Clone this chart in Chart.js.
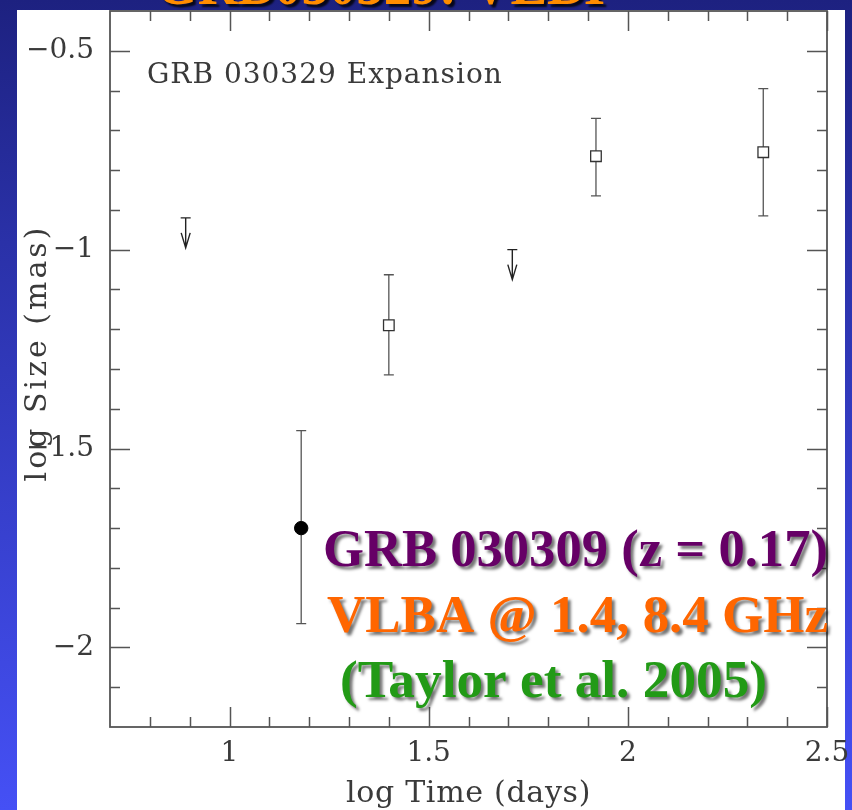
<!DOCTYPE html>
<html><head><meta charset="utf-8">
<script src="https://cdn.jsdelivr.net/npm/chart.js@4.4.0/dist/chart.umd.min.js"></script>
<style>html,body{margin:0;padding:0;background:#2a33b5;overflow:hidden}canvas{display:block}</style>
</head><body>
<canvas id="c" width="852" height="810"></canvas>
<script>
// ---- data ----
const limitX = [0.89, 1.71];
const limitY = [-0.92, -1.0];
const filledX = [1.18];
const filledY = [-1.70];
const filledLow = [-1.94];
const filledHigh = [-1.455];
const openX = [1.40, 1.92, 2.34];
const openY = [-1.19, -0.765, -0.755];
const openLow = [-1.315, -0.865, -0.915];
const openHigh = [-1.063, -0.67, -0.595];
const xRange = [0.7, 2.5];
const yRange = [-2.2, -0.4];
const xTickValues = [1, 1.5, 2, 2.5];
const xTickLabels = ['1', '1.5', '2', '2.5'];
const yTickValues = [-2, -1.5, -1, -0.5];
const yTickLabels = ['\u22122', '\u22121.5', '\u22121', '\u22120.5'];
const xMinorTicks = [0.8, 0.9, 1.1, 1.2, 1.3, 1.4, 1.6, 1.7, 1.8, 1.9, 2.1, 2.2, 2.3, 2.4];
const yMinorTicks = [-2.1, -1.9, -1.8, -1.7, -1.6, -1.4, -1.3, -1.2, -1.1, -0.9, -0.8, -0.7, -0.6];
const plotLabel = 'GRB 030329 Expansion';
const xTitle = 'log Time (days)';
const yTitle = 'log Size (mas)';
const noteLines = ['GRB 030309 (z = 0.17)', 'VLBA @ 1.4, 8.4 GHz', '(Taylor et al. 2005)'];
const slideTitle = 'GRB030329: VLBI';

// ---- styles ----
const AXIS = '#555';
const TEXT = '#3a3a3a';
const SERIF = '"DejaVu Serif", serif';
const BOLD = '"Liberation Serif", "Times New Roman", serif';

const decor = {
  id: 'decor',
  beforeDraw(chart) {
    const ctx = chart.ctx, W = chart.width, H = chart.height;
    ctx.save();
    const g = ctx.createLinearGradient(0, 0, 0, H);
    g.addColorStop(0, '#1d2180');
    g.addColorStop(0.3, '#2a31a8');
    g.addColorStop(1, '#4550f5');
    ctx.fillStyle = g;
    ctx.fillRect(0, 0, W, H);
    // slide title (cut off by top edge)
    ctx.font = 'bold 64px ' + BOLD;
    ctx.textBaseline = 'alphabetic';
    ctx.textAlign = 'left';
    const tw = ctx.measureText(slideTitle).width;
    ctx.translate(155, 4);
    ctx.scale(450 / tw, 1);
    ctx.shadowColor = 'rgba(0,0,0,0.8)';
    ctx.shadowOffsetX = 3; ctx.shadowOffsetY = 3; ctx.shadowBlur = 2;
    ctx.fillStyle = '#ff8c00';
    ctx.fillText(slideTitle, 0, 0);
    ctx.restore();
    ctx.fillStyle = '#ffffff';
    ctx.fillRect(17, 10, 828, H - 10);
  },
  beforeDatasetsDraw(chart) {
    const ctx = chart.ctx, xs = chart.scales.x, ys = chart.scales.y;
    ctx.save();
    ctx.strokeStyle = '#555';
    ctx.lineWidth = 1.3;
    const bar = (x, lo, hi) => {
      const px = xs.getPixelForValue(x);
      const p1 = ys.getPixelForValue(lo), p2 = ys.getPixelForValue(hi);
      ctx.beginPath();
      ctx.moveTo(px, p1); ctx.lineTo(px, p2);
      ctx.moveTo(px - 5, p1); ctx.lineTo(px + 5, p1);
      ctx.moveTo(px - 5, p2); ctx.lineTo(px + 5, p2);
      ctx.stroke();
    };
    filledX.forEach((x, i) => bar(x, filledLow[i], filledHigh[i]));
    openX.forEach((x, i) => bar(x, openLow[i], openHigh[i]));
    // upper limits
    ctx.strokeStyle = '#222';
    ctx.lineWidth = 1.4;
    limitX.forEach((x, i) => {
      const px = xs.getPixelForValue(x), py = ys.getPixelForValue(limitY[i]);
      const tip = py + 30;
      ctx.beginPath();
      ctx.moveTo(px - 5, py); ctx.lineTo(px + 5, py);
      ctx.moveTo(px, py); ctx.lineTo(px, tip);
      ctx.moveTo(px - 4.5, tip - 15); ctx.lineTo(px, tip); ctx.lineTo(px + 4.5, tip - 15);
      ctx.stroke();
    });
    ctx.restore();
  },
  afterDatasetsDraw(chart) {
    const ctx = chart.ctx, xs = chart.scales.x, ys = chart.scales.y, a = chart.chartArea;
    ctx.save();
    ctx.strokeStyle = AXIS;
    ctx.lineWidth = 1.5;
    ctx.beginPath();
    const xt = (v, len) => {
      const p = Math.round(xs.getPixelForValue(v)) + 0.5;
      ctx.moveTo(p, a.bottom); ctx.lineTo(p, a.bottom - len);
      ctx.moveTo(p, a.top); ctx.lineTo(p, a.top + len);
    };
    const yt = (v, len) => {
      const p = Math.round(ys.getPixelForValue(v)) + 0.5;
      ctx.moveTo(a.left, p); ctx.lineTo(a.left + len, p);
      ctx.moveTo(a.right, p); ctx.lineTo(a.right - len, p);
    };
    xTickValues.forEach(v => xt(v, 20));
    xMinorTicks.forEach(v => xt(v, 10));
    yTickValues.forEach(v => yt(v, 20));
    yMinorTicks.forEach(v => yt(v, 10));
    ctx.stroke();
    ctx.lineWidth = 1.8;
    ctx.strokeRect(a.left, a.top, a.right - a.left, a.bottom - a.top);
    ctx.restore();
  },
  afterDraw(chart) {
    const ctx = chart.ctx, a = chart.chartArea;
    ctx.save();
    ctx.fillStyle = TEXT;
    // plot label
    ctx.font = '28px ' + SERIF;
    ctx.letterSpacing = '1px';
    ctx.textAlign = 'left';
    ctx.textBaseline = 'alphabetic';
    ctx.fillText(plotLabel, 147, 83);
    // x title
    ctx.font = '30px ' + SERIF;
    ctx.letterSpacing = '0.7px';
    ctx.textAlign = 'center';
    ctx.textBaseline = 'middle';
    ctx.fillText(xTitle, (a.left + a.right) / 2, 794);
    // y title
    ctx.save();
    ctx.font = '30px ' + SERIF;
    ctx.letterSpacing = '3px';
    ctx.translate(38, 353);
    ctx.rotate(-Math.PI / 2);
    ctx.fillText(yTitle, 0, 0);
    ctx.restore();
    ctx.letterSpacing = '0px';
    // annotation lines
    const notes = [
      {t: noteLines[0], x: 323, y: 566, r: 828, c: '#660066'},
      {t: noteLines[1], x: 327, y: 632, r: 828, c: '#ff6600'},
      {t: noteLines[2], x: 340, y: 697, r: 767, c: '#229a16'}
    ];
    ctx.font = 'bold 52px ' + BOLD;
    ctx.textAlign = 'left';
    ctx.textBaseline = 'alphabetic';
    notes.forEach(n => {
      const w = ctx.measureText(n.t).width;
      ctx.save();
      ctx.translate(n.x, n.y);
      ctx.scale((n.r - n.x) / w, 1);
      ctx.shadowColor = 'rgba(0,0,0,0.55)';
      ctx.shadowOffsetX = 3; ctx.shadowOffsetY = 3; ctx.shadowBlur = 3;
      ctx.fillStyle = n.c;
      ctx.fillText(n.t, 0, 0);
      ctx.restore();
    });
    ctx.restore();
  }
};

new Chart(document.getElementById('c'), {
  type: 'scatter',
  data: {
    datasets: [
      {label: 'Upper limits', data: limitX.map((x, i) => ({x, y: limitY[i]})), pointRadius: 0, pointHoverRadius: 0},
      {label: 'Detection (filled)', data: filledX.map((x, i) => ({x, y: filledY[i]})),
       pointStyle: 'circle', pointRadius: 6.7, backgroundColor: '#000', borderColor: '#000', borderWidth: 1},
      {label: 'Detections (open)', data: openX.map((x, i) => ({x, y: openY[i]})),
       pointStyle: 'rect', pointRadius: 7.5, backgroundColor: '#fff', borderColor: '#333', borderWidth: 1.3}
    ]
  },
  options: {
    responsive: false,
    animation: false,
    devicePixelRatio: 1,
    layout: {padding: {left: 0, top: 11, right: 25, bottom: 0}},
    plugins: {legend: {display: false}, tooltip: {enabled: false}},
    scales: {
      x: {
        type: 'linear', min: xRange[0], max: xRange[1],
        afterBuildTicks: s => { s.ticks = xTickValues.map(v => ({value: v})); },
        afterFit: s => { s.height = 83; s.paddingLeft = 0; s.paddingRight = 0; },
        ticks: {autoSkip: false, maxRotation: 0, padding: 10, color: TEXT,
                font: {family: SERIF, size: 28},
                callback: (v, i) => xTickLabels[i]},
        grid: {display: false, drawTicks: false},
        border: {display: false}
      },
      y: {
        type: 'linear', min: yRange[0], max: yRange[1],
        afterBuildTicks: s => { s.ticks = yTickValues.map(v => ({value: v})); },
        afterFit: s => { s.width = 110; s.paddingTop = 0; s.paddingBottom = 0; },
        ticks: {autoSkip: false, padding: 16, color: TEXT,
                font: {family: SERIF, size: 28},
                callback: (v, i) => yTickLabels[i]},
        grid: {display: false, drawTicks: false},
        border: {display: false}
      }
    }
  },
  plugins: [decor]
});
</script>
</body></html>
